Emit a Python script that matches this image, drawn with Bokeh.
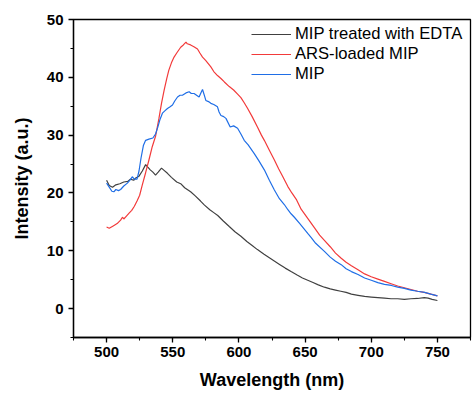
from bokeh.plotting import figure
from bokeh.models import Range1d, SingleIntervalTicker
from bokeh.embed import file_html
from bokeh.resources import INLINE

# ---- data ----
wl_edta = [500, 502, 504.5, 507, 510, 513, 516, 518, 520.5, 522, 524.5, 527, 529.5, 531, 533, 535,
           537, 539, 541.5, 543, 546, 549, 553, 556, 559, 563.5, 567, 571, 574, 578, 581, 584, 588,
           592.7, 597, 601.5, 606, 610, 614, 619, 623, 627, 631, 635, 639.4, 644, 648, 652, 656, 660,
           664.6, 669, 673, 677, 681, 685, 690, 695, 700, 705, 710, 715, 720, 725, 730, 735, 740, 743,
           746, 750]
int_edta = [22.2, 21.3, 21.0, 21.4, 21.6, 21.9, 22.0, 22.4, 22.2, 22.6, 22.9, 23.8, 24.9, 24.5, 24.0,
            23.6, 23.1, 23.6, 24.3, 24.0, 23.4, 22.7, 21.9, 21.6, 20.9, 20.2, 19.5, 18.6, 17.9, 17.1,
            16.6, 16.1, 15.2, 14.2, 13.3, 12.5, 11.6, 10.9, 10.2, 9.4, 8.8, 8.2, 7.6, 7.0, 6.4, 5.8,
            5.3, 4.9, 4.5, 4.1, 3.7, 3.4, 3.2, 3.0, 2.8, 2.5, 2.3, 2.1, 2.0, 1.9, 1.8, 1.7, 1.7, 1.6,
            1.7, 1.75, 1.9, 1.8, 1.6, 1.4]

wl_ars = [500, 502, 505, 508, 510.6, 512, 513, 515, 517, 519, 521, 523, 525, 527, 529.5, 532, 534.5,
          537, 539.5, 541.5, 543.5, 545.5, 547, 549, 551, 553, 556, 558, 560, 561, 563.5, 566, 568.7,
          570.5, 572.5, 575, 578.8, 581, 583.8, 586.4, 589, 592.7, 596, 599, 601.5, 604, 606.6, 610,
          614, 617, 619.2, 623, 626.8, 630, 633, 637, 640, 643.6, 647, 652, 657, 661, 664.6, 669, 673,
          677.3, 681, 685, 690, 695, 700, 705, 710, 715, 720, 725, 730, 735, 740, 745, 750]
int_ars = [14.1, 13.9, 14.3, 14.7, 15.3, 15.8, 15.5, 16.0, 16.5, 17.0, 17.7, 18.6, 19.6, 21.4, 23.5,
           25.7, 28.0, 29.8, 32.8, 35.5, 37.8, 39.8, 41.2, 42.5, 43.5, 44.2, 45.2, 45.6, 46.1, 45.8,
           45.6, 45.3, 44.9, 44.2, 43.5, 42.9, 41.8, 41.0, 40.3, 39.8, 39.2, 38.4, 37.8, 37.1, 36.5,
           35.6, 34.6, 33.2, 31.4, 30.0, 29.1, 27.4, 25.7, 24.2, 22.9, 21.1, 20.0, 18.8, 17.2, 15.6,
           14.0, 12.7, 11.8, 10.7, 9.6, 8.7, 8.0, 7.4, 6.7, 6.0, 5.5, 5.1, 4.7, 4.3, 3.9, 3.6, 3.3,
           3.0, 2.8, 2.5, 2.2]

wl_mip = [500, 502, 504, 505.5, 507, 509, 510.6, 513, 515.7, 518, 519.4, 521, 523, 524.5, 526, 527.8,
          529.5, 532, 535, 537, 538.6, 540.5, 542.2, 544, 546, 548, 549.8, 551.5, 553.6, 555.5, 557.3,
          560, 562.4, 564, 566.1, 568, 569.9, 571.5, 572.5, 574, 575, 577, 578.8, 581, 583.8, 585,
          586.4, 588.5, 590.2, 593.4, 596, 599, 601.5, 604, 607, 611.6, 615, 619.2, 623, 626.8, 630.6,
          634.3, 637, 639.4, 641.9, 646, 652, 654.5, 658, 664.6, 669, 673, 677.3, 681, 685, 690, 695,
          700, 705, 710, 715.2, 720, 725, 730, 735, 740.4, 745, 750]
int_mip = [21.7, 21.0, 20.3, 20.2, 20.6, 20.4, 20.6, 21.2, 21.7, 22.3, 22.8, 22.4, 22.4, 23.8, 26.0,
           28.2, 29.1, 29.3, 29.5, 30.2, 31.3, 32.8, 33.8, 34.2, 34.6, 34.9, 35.2, 35.9, 36.6, 36.9,
           36.9, 37.3, 37.5, 37.2, 37.2, 36.9, 36.6, 37.4, 37.9, 36.8, 36.0, 35.8, 35.5, 35.3, 34.9,
           34.0, 33.4, 33.2, 32.9, 31.4, 31.6, 31.2, 30.2, 29.1, 28.3, 26.8, 25.6, 24.0, 22.2, 20.5,
           19.0, 18.0, 17.1, 16.4, 15.8, 14.7, 13.0, 12.3, 11.3, 9.9, 8.9, 8.2, 7.6, 6.9, 6.4, 5.9,
           5.3, 4.9, 4.5, 4.2, 4.0, 3.7, 3.5, 3.2, 3.0, 2.8, 2.5, 2.2]

labels = ["MIP treated with EDTA", "ARS-loaded MIP", "MIP"]
colors = ["#404040", "#f23a3a", "#1f6ee6"]

FONT = "Liberation Sans"

p = figure(width=472, height=397, output_backend="svg", toolbar_location=None,
           x_range=Range1d(475, 775), y_range=Range1d(-5, 50),
           min_border_left=73, min_border_right=2, min_border_top=19, min_border_bottom=60)
p.xgrid.visible = False
p.ygrid.visible = False
p.background_fill_color = "white"
p.border_fill_color = "white"
p.outline_line_color = "black"
p.outline_line_width = 1.3

p.line(wl_edta, int_edta, line_color=colors[0], line_width=1.2, legend_label=labels[0])
p.line(wl_ars, int_ars, line_color=colors[1], line_width=1.2, legend_label=labels[1])
p.line(wl_mip, int_mip, line_color=colors[2], line_width=1.2, legend_label=labels[2])

p.xaxis.ticker = SingleIntervalTicker(interval=50, num_minor_ticks=2)
p.yaxis.ticker = SingleIntervalTicker(interval=10, num_minor_ticks=2)

for ax in (p.xaxis[0], p.yaxis[0]):
    ax.axis_line_color = "black"
    ax.axis_line_width = 1.3
    ax.major_tick_line_color = "black"
    ax.major_tick_line_width = 1.3
    ax.minor_tick_line_color = "black"
    ax.minor_tick_line_width = 1.1
    ax.major_tick_in = 0
    ax.major_tick_out = 5
    ax.minor_tick_in = 0
    ax.minor_tick_out = 3
    ax.major_label_text_font = FONT
    ax.major_label_text_font_style = "bold"
    ax.major_label_text_font_size = "15px"
    ax.major_label_text_color = "black"
    ax.axis_label_text_font = FONT
    ax.axis_label_text_font_style = "bold"
    ax.axis_label_text_font_size = "18px"
    ax.axis_label_text_color = "black"

p.xaxis.axis_label = "Wavelength (nm)"
p.yaxis.axis_label = "Intensity (a.u.)"
p.xaxis.major_label_standoff = 4
p.xaxis.axis_label_standoff = 10
p.yaxis.major_label_standoff = 5
p.yaxis.axis_label_standoff = 12

lg = p.legend[0]
lg.location = (178, 253)
lg.margin = 0
lg.padding = 4
lg.spacing = 0
lg.glyph_width = 40
lg.glyph_height = 20
lg.label_height = 20
lg.label_standoff = 4
lg.label_text_font = FONT
lg.label_text_font_size = "16.6px"
lg.label_text_color = "black"
lg.border_line_color = None
lg.background_fill_alpha = 0

open("out.html", "w").write(file_html(p, INLINE))
